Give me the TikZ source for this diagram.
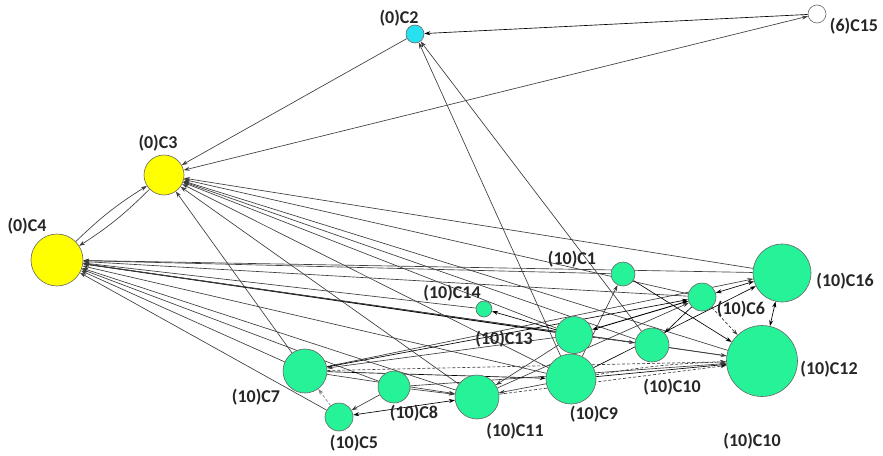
\documentclass[tikz,border=0pt]{standalone}
\usepackage{fontspec}
\setmainfont{Carlito}
\usetikzlibrary{arrows.meta}
\definecolor{grn}{RGB}{38,242,152}
\definecolor{yel}{RGB}{255,255,0}
\definecolor{cyn}{RGB}{40,225,240}
\definecolor{edgec}{RGB}{60,60,60}
\pgfdeclarelayer{back}\pgfdeclarelayer{bg}\pgfsetlayers{back,bg,main}
\begin{document}
\begin{tikzpicture}[x=1pt,y=-1pt,
 nd/.style={circle,draw=black!60,line width=0.6pt,inner sep=0pt,minimum size=#1},
 lbl/.style={font=\bfseries\fontsize{18}{18}\selectfont, text=black!85, inner sep=0pt},
 ar/.style={draw=edgec, line width=0.65pt, -{Stealth[length=6pt,width=4pt]}},
 arb/.style={ar,{Stealth[length=6pt,width=4pt]}-{Stealth[length=6pt,width=4pt]}},
 ard/.style={ar, dash pattern=on 3pt off 2pt},
]
\useasboundingbox (0,0) rectangle (883,455);
\begin{pgfonlayer}{back}
\fill[white] (0,0) rectangle (883,455);
\end{pgfonlayer}
% nodes
\node[nd=18pt, fill=cyn] (c2) at (415,34) {};
\node[nd=18pt, fill=white] (c15) at (817,14) {};
\node[nd=40pt, fill=yel] (c3) at (164,175) {};
\node[nd=52pt, fill=yel] (c4) at (57,260) {};
\node[nd=24pt, fill=grn] (c1) at (623,274) {};
\node[nd=58pt, fill=grn] (c16) at (782,273) {};
\node[nd=16pt, fill=grn] (c14) at (484,309) {};
\node[nd=28pt, fill=grn] (c6) at (702,297) {};
\node[nd=37pt, fill=grn] (c13) at (574,335) {};
\node[nd=34pt, fill=grn] (c10) at (652,345) {};
\node[nd=71pt, fill=grn] (c12) at (762,361) {};
\node[nd=50pt, fill=grn] (c9) at (571,379) {};
\node[nd=44pt, fill=grn] (c7) at (305,371) {};
\node[nd=32pt, fill=grn] (c8) at (394,387) {};
\node[nd=44pt, fill=grn] (c11) at (477,397) {};
\node[nd=28pt, fill=grn] (c5) at (339,417) {};
% labels
\node[lbl] (l2) at (399,18) {(0)C2};
\node[lbl] (l15) at (854,26) {(6)C15};
\node[lbl] (l3) at (158,143) {(0)C3};
\node[lbl] (l4) at (27,226) {(0)C4};
\node[lbl] (l1) at (572,259) {(10)C1};
\node[lbl] (l16) at (845,281) {(10)C16};
\node[lbl] (l14) at (452,293) {(10)C14};
\node[lbl] (l6) at (741,309) {(10)C6};
\node[lbl] (l13) at (504,339) {(10)C13};
\node[lbl] (l10) at (672,387) {(10)C10};
\node[lbl] (l12) at (829,369) {(10)C12};
\node[lbl] (l9) at (594,414) {(10)C9};
\node[lbl] (l11) at (515,431) {(10)C11};
\node[lbl] (l10b) at (752,441) {(10)C10};
\node[lbl] (l7) at (256,397) {(10)C7};
\node[lbl] (l8) at (414,413) {(10)C8};
\node[lbl] (l5) at (354,443) {(10)C5};
% edges
\begin{pgfonlayer}{bg}
% to C3
\draw[ar] (c2) -- (c3);
\draw[arb] (c15) -- (c3);
\draw[ar] (c16) -- (c3);
\draw[ar] (c7) -- (c3);
\draw[ar] (c11) -- (c3);
\draw[ar] (c9) -- (c3);
\draw[ar] (c13) -- (c3);
\draw[ar] (c10) -- (c3);
\draw[ar] (c12) -- (c3);
\draw[ar] (c6) -- (c3);
\draw[ar] (c4) to[bend left=6] (c3);
\draw[ar] (c3) to[bend left=6] (c4);
% to C4
\draw[ar] (c16) -- (c4);
\draw[ar] (c1) -- (c4);
\draw[ar] (c6) -- (c4);
\draw[ar] (c14) -- (c4);
\draw[ar, draw=black, line width=0.9pt] (c13) -- (c4);
\draw[ar] (c10) -- (c4);
\draw[ar] (c12) -- (c4);
\draw[ar] (c9) -- (c4);
\draw[ar] (c11) -- (c4);
\draw[ar] (c8) -- (c4);
\draw[ar] (c7) -- (c4);
\draw[ar] (c5) -- (c4);
% to C2
\draw[ar, draw=black] (c15) -- (c2);
\draw[ar] (c9) -- (c2);
\draw[ar] (c10) -- (c2);
% among green nodes
\draw[ar] (c13) -- (c7);
\draw[ar, draw=black] (c7) -- (c9);
\draw[ard] (c7) -- (c12);
\draw[ar] (c7) -- (c11);
\draw[ar] (c8) -- (c5);
\draw[arb, draw=black] (c11) -- (c5);
\draw[ard, draw=gray] (c5) -- (c7);
\draw[ar] (c8) -- (c11);
\draw[ar] (c13) -- (c11);
\draw[ar] (c9) -- (c11);
\draw[ard] (c11) -- (c12);
\draw[ar, draw=black] (c9) -- (c12);
\draw[ard] (c9) to[bend left=4] (c12);
\draw[ar] (c9) -- (c1);
\draw[arb, draw=black, line width=0.9pt] (c6) -- (c13);
\draw[ar, draw=black] (c6) -- (c10);
\draw[ard] (c6) -- (c12);
\draw[ar, draw=black] (c1) -- (c12);
\draw[arb, draw=black] (c6) -- (c16);
\draw[arb, draw=black] (c12) -- (c16);
\draw[ar] (c10) -- (c12);
\draw[ar, draw=black] (c13) -- (c14);
\draw[ard] (c13) -- (c10);
\draw[ar] (c7) -- (c16);
\draw[ar] (c11) -- (c6);
\draw[ar] (c8) -- (c12);
\draw[ar, draw=black] (c7) -- (c6);
\draw[ar, draw=black] (c9) -- (c16);
\end{pgfonlayer}
\end{tikzpicture}
\end{document}
